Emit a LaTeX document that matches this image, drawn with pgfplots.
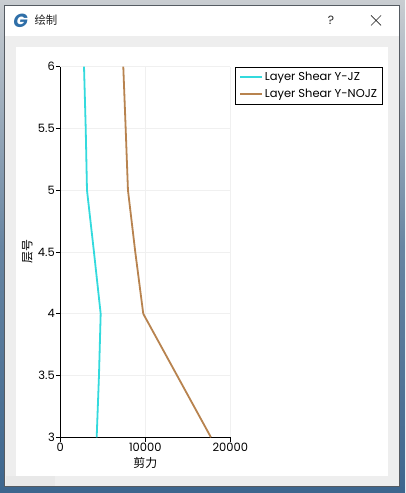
\documentclass[border=0pt]{standalone}
\usepackage{fontspec}
\setmainfont{Poppins}
\newfontfamily\cjk{Noto Sans CJK SC}
\usepackage{pgfplots}
\pgfplotsset{compat=1.18}
\definecolor{deskblue}{HTML}{3D668E}
\definecolor{deskgrey}{HTML}{C9CDD1}
\definecolor{panel}{HTML}{EEEEEE}
\definecolor{edge}{HTML}{555B62}
\definecolor{jz}{HTML}{33DADD}
\definecolor{nojz}{HTML}{B8834F}
\definecolor{gridc}{HTML}{F0F0F0}
\definecolor{logo}{HTML}{2F6FA8}
\begin{document}
\begin{tikzpicture}[x=1bp,y=1bp]
  \useasboundingbox (0,0) rectangle (405,493);
  % desktop and window chrome, y counted from the bottom of the page
  \fill[top color=deskgrey,bottom color=deskblue,middle color=deskblue!70!deskgrey] (0,0) rectangle (405,493);
  \fill[deskblue] (0,0) rectangle (405,6);
  \filldraw[draw=edge,fill=panel,line width=0.8bp] (4.7,6.3) rectangle (399.3,487.7);
  \fill[white] (5.2,457) rectangle (398.8,487.2);
  \fill[white] (16,17.3) rectangle (388,446.3);
  \node[font=\fontsize{19}{19}\selectfont\bfseries\itshape,text=logo] at (20.5,472.5) {G};
  \node[font=\cjk\fontsize{11.5}{11.5}\selectfont,text=black!85,anchor=west] at (31,472.5) {绘制};
  \node[font=\fontsize{12}{12}\selectfont,text=black!85] at (331,473) {?};
  \draw[black!85,line width=0.7bp] (371,477.5) -- (381,467.5) (371,467.5) -- (381,477.5);
  \fill[black!9] (6,7) rectangle (55,16.5);
  \begin{axis}[
    at={(60.3bp,55.7bp)},anchor=south west,
    scale only axis,width=170bp,height=370.6bp,
    xmin=0,xmax=20000,ymin=3,ymax=6,
    xtick={0,10000,20000},ytick={3,3.5,4,4.5,5,5.5,6},
    scaled x ticks=false,
    /pgf/number format/assume math mode=true,
    /pgf/number format/1000 sep={},
    axis x line*=bottom,axis y line*=left,
    axis line style={black,line width=0.8bp,-},
    x tick style={black,line width=0.7bp},y tick style={black,line width=0.7bp},
    tick align=outside,major tick length=4.5bp,
    tick label style={font=\fontsize{11.5}{12}\selectfont},
    xticklabel style={yshift=2bp},
    yticklabel style={xshift=2.5bp},
    grid=major,grid style={gridc,line width=0.7bp},
    xlabel={\cjk 剪力},ylabel={\cjk 层号},
    label style={font=\fontsize{12}{12}\selectfont},
    xlabel style={at={(axis description cs:0.5,-0.07)},anchor=center},
    ylabel style={at={(axis description cs:-0.194,0.5)},anchor=center},
    legend style={at={(1.03,1)},anchor=north west,
      font=\fontsize{11.5}{13}\selectfont,
      inner xsep=3.5bp,inner ysep=2.8bp,row sep=3.5bp,cells={anchor=west}},
    legend image code/.code={\draw[#1] (0bp,0bp) -- (22bp,0bp);},
    legend cell align=left,
    clip=false,
  ]
    \addplot[jz,line width=1.8bp] coordinates {
      (4280,3) (4550,3.5) (4750,4) (3960,4.5) (3140,5) (2990,5.5) (2790,6)};
    \addlegendentry{Layer Shear Y-JZ}
    \addplot[nojz,line width=1.8bp] coordinates {
      (17720,3) (9760,4) (8820,4.5) (7960,5) (7690,5.5) (7410,6)};
    \addlegendentry{Layer Shear Y-NOJZ}
  \end{axis}
\end{tikzpicture}
\end{document}
